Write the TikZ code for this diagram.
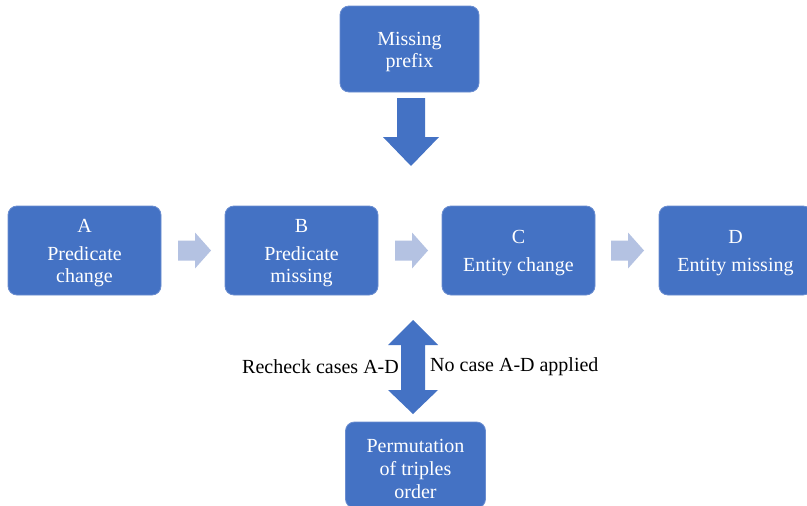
\documentclass[tikz,border=0pt]{standalone}
\usepackage{fontspec}
\setmainfont{Liberation Serif}
\usetikzlibrary{calc}
\definecolor{boxblue}{HTML}{4472C4}
\definecolor{boxedge}{HTML}{6A8DD0}
\definecolor{lightarrow}{HTML}{B4C2E2}
\begin{document}
\begin{tikzpicture}[x=1pt,y=-1pt,
  stepbox/.style={draw=boxedge, line width=0.8pt, fill=boxblue, rounded corners=9pt,
    inner sep=0pt},
  boxtext/.style={text=white, align=center, font=\fontsize{20}{22}\selectfont,
    inner sep=0pt, yshift=-3pt},
  lbl/.style={text=black, font=\fontsize{20}{22}\selectfont, inner sep=0pt},
  chevron/.pic={\fill[lightarrow] (-16.5,-10) -- (0.5,-10) -- (0.5,-18) -- (16.5,0)
     -- (0.5,18) -- (0.5,10) -- (-16.5,10) -- cycle;}]
\useasboundingbox (0,0) rectangle (807,506);
\clip (0,0) rectangle (807,506);
\fill[white] (0,0) rectangle (807,506);
% boxes
\node[stepbox, minimum width=139, minimum height=86,
  label={[boxtext]center:{Missing\\prefix}}] (P) at (409.5,49) {};
\node[stepbox, minimum width=153, minimum height=89,
  label={[boxtext]center:{A\\[6pt]Predicate\\change}}] (A) at (84.5,250.5) {};
\node[stepbox, minimum width=153, minimum height=89,
  label={[boxtext]center:{B\\[6pt]Predicate\\missing}}] (B) at (301.5,250.5) {};
\node[stepbox, minimum width=153, minimum height=89,
  label={[boxtext]center:{C\\[6pt]Entity change}}] (C) at (518.5,250.5) {};
\node[stepbox, minimum width=153, minimum height=89,
  label={[boxtext]center:{D\\[6pt]Entity missing}}] (D) at (735.5,250.5) {};
\node[stepbox, minimum width=140, minimum height=86,
  label={[boxtext, yshift=-1pt]center:{Permutation\\[1pt]of triples\\[1pt]order}}] (R) at (415.5,465) {};
% light chevron arrows between the steps
\coordinate (ab) at ($(A.east)!0.5!(B.west)+(1.5,0)$);
\coordinate (bc) at ($(B.east)!0.5!(C.west)+(1.5,0)$);
\coordinate (cd) at ($(C.east)!0.5!(D.west)+(0.5,0)$);
\pic at (ab) {chevron};
\pic at (bc) {chevron};
\pic at (cd) {chevron};
% down arrow from Missing prefix
\fill[boxblue] (397,98) -- (425,98) -- (425,137) -- (439,137) -- (411,166)
   -- (383,137) -- (397,137) -- cycle;
% double arrow
\fill[boxblue] (413,320) -- (438,345) -- (425,345) -- (425,390) -- (438,390)
   -- (413,414) -- (388,390) -- (401,390) -- (401,345) -- (388,345) -- cycle;
% labels
\node[lbl, anchor=east] (rc) at (399,367) {Recheck cases A-D};
\node[lbl, anchor=west] (nc) at (430,367) {No case A-D applied};
\end{tikzpicture}
\end{document}
